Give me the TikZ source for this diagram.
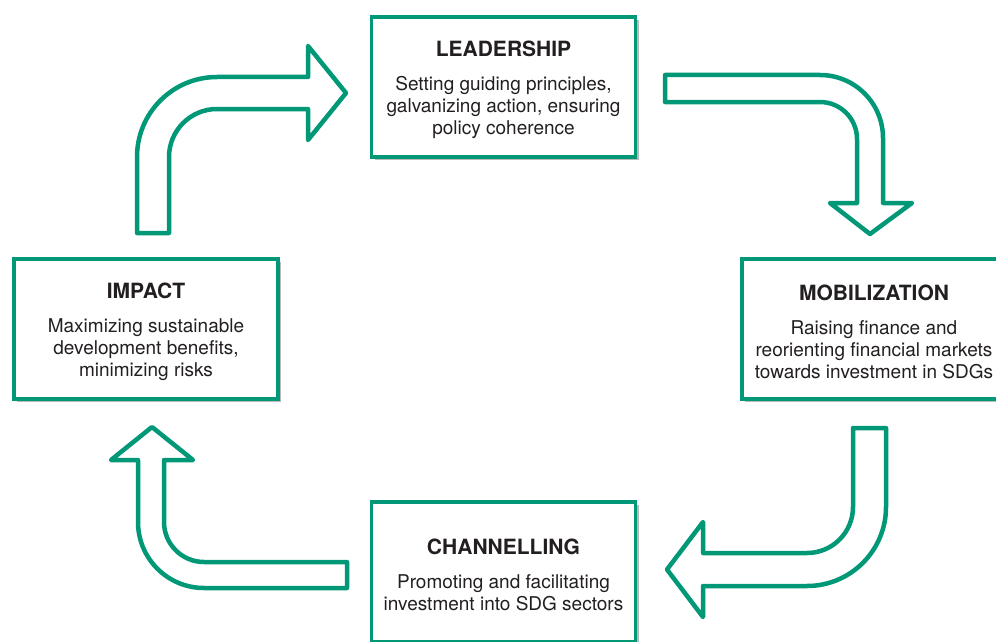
\documentclass[tikz,border=0pt]{standalone}
\usepackage{fontspec}
\setmainfont{TeX Gyre Heros}
\usepackage{xcolor}
\usetikzlibrary{shadows}
\definecolor{sdggreen}{RGB}{0,152,118}
\definecolor{sdgtext}{RGB}{35,31,32}
\newcommand{\stagetitle}{\rule{0pt}{22pt}\fontsize{21}{21}\selectfont\bfseries}
\tikzstyle{stagebox} = [draw=sdggreen, fill=white, line width=3.5pt,
rectangle, minimum width=264pt, minimum height=140pt, align=center,
text=sdgtext, font=\fontsize{19}{22}\selectfont,
drop shadow={shadow xshift=3pt, shadow yshift=-3pt, fill=black!60, opacity=.45}]
\tikzstyle{blockarrow} = [draw=sdggreen, fill=white, line width=4.5pt, line join=round]

\begin{document}
\begin{tikzpicture}[x=1pt, y=1pt]
        \useasboundingbox (0,0) rectangle (996,-642);
        % the four stages
        \node [stagebox] (lead) at (503.5,-87) {%
            {\stagetitle LEADERSHIP}\\[12pt]
            Setting guiding principles,\\
            galvanizing action, ensuring\\
            policy coherence};
        \node [stagebox] (mobil) at (874,-329) {%
            {\stagetitle MOBILIZATION}\\[12pt]
            Raising finance and\\
            reorienting financial markets\\
            towards investment in SDGs};
        \node [stagebox] (chann) at (503.5,-572) {%
            {\stagetitle CHANNELLING}\\[12pt]
            Promoting and facilitating\\
            investment into SDG sectors};
        \node [stagebox] (impact) at (146,-329) {%
            {\stagetitle IMPACT}\\[12pt]
            Maximizing sustainable\\
            development benefits,\\
            minimizing risks};
        % block arrows between the stages
        \draw [blockarrow] (137,-233) -- (137,-157) arc[start angle=180, end angle=90, radius=80]
            -- (308,-77) -- (308,-46) -- (346,-93) -- (308,-140) -- (308,-109) -- (217,-109)
            arc[start angle=90, end angle=180, radius=48] -- (169,-233) -- cycle;
        \draw [blockarrow] (665,-75) -- (820,-75) arc[start angle=90, end angle=0, radius=63]
            -- (883,-203) -- (912,-203) -- (870,-234) -- (830,-203) -- (857,-203) -- (857,-139)
            arc[start angle=0, end angle=90, radius=37] -- (665,-102) -- cycle;
        \draw [blockarrow] (853,-428) -- (886,-428) -- (886,-507) arc[start angle=0, end angle=-90, radius=79]
            -- (703,-586) -- (703,-617) -- (667,-569.5) -- (703,-522) -- (703,-553) -- (807,-553)
            arc[start angle=-90, end angle=0, radius=46] -- cycle;
        \draw [blockarrow] (347,-562) -- (204,-562) arc[start angle=270, end angle=180, radius=40]
            -- (164,-460) -- (193,-460) -- (152,-427) -- (111,-460) -- (138,-460) -- (138,-522)
            arc[start angle=180, end angle=270, radius=66] -- (347,-588) -- cycle;
    \end{tikzpicture}
\end{document}
